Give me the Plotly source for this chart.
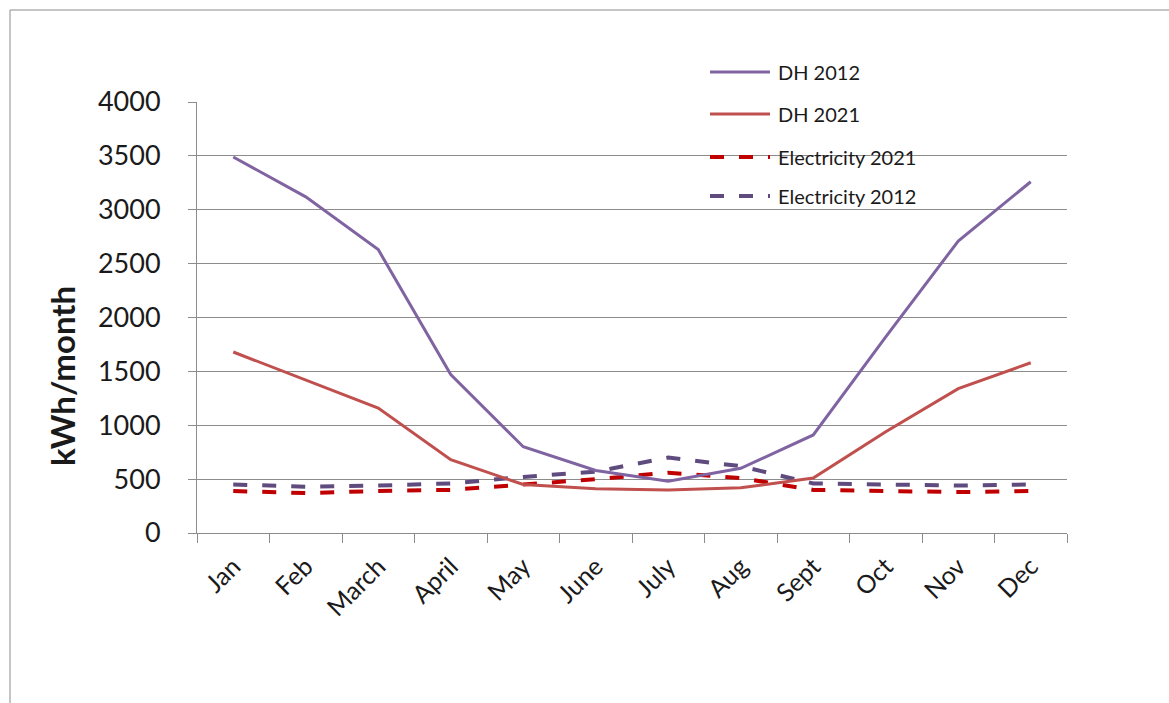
import plotly.graph_objects as go

# Monthly energy use, kWh per month
months = ["Jan", "Feb", "March", "April", "May", "June",
          "July", "Aug", "Sept", "Oct", "Nov", "Dec"]

dh_2012 = [3490, 3120, 2630, 1470, 800, 580, 480, 600, 910, 1820, 2710, 3260]
dh_2021 = [1680, 1420, 1160, 680, 450, 410, 400, 420, 510, 940, 1340, 1580]
el_2021 = [390, 370, 390, 400, 450, 500, 560, 510, 400, 390, 380, 390]
el_2012 = [450, 430, 440, 460, 520, 570, 700, 620, 460, 450, 440, 450]

series_names = ["DH 2012", "DH 2021", "Electricity 2021", "Electricity 2012"]
series_values = [dh_2012, dh_2021, el_2021, el_2012]
series_colors = ["#8064A2", "#C0504D", "#C00000", "#5F4B7E"]
series_dash = ["solid", "solid", "14px,15px", "14px,15px"]
series_width = [3, 3, 4, 4]

W, H = 1169, 703
L, R, T, B = 197, 102, 102, 170
pw, ph = W - L - R, H - T - B

def px_x(x):
    return (x - L) / pw

def px_y(y):
    return (H - B - y) / ph

fig = go.Figure()
# draw order: electricity underneath the district-heating lines
for i in [3, 2, 1, 0]:
    fig.add_trace(go.Scatter(
        x=months, y=series_values[i], name=series_names[i], mode="lines",
        line=dict(color=series_colors[i], width=series_width[i], dash=series_dash[i]),
        showlegend=False,
    ))

grid = "#8C8C8C"
font_family = "Lato, 'Open Sans', sans-serif"

fig.update_layout(
    width=W, height=H,
    margin=dict(l=L, r=R, t=T, b=B),
    paper_bgcolor="white", plot_bgcolor="white",
    font=dict(family=font_family, color="#1a1a1a"),
    xaxis=dict(
        type="category", tickson="boundaries", ticks="outside", ticklen=9,
        tickcolor=grid, tickwidth=1, showline=True, linecolor=grid, linewidth=1,
        showgrid=False, tickangle=-45, tickfont=dict(size=25),
        ticklabelstandoff=8, range=[-0.5, 11.5],
    ),
    yaxis=dict(
        range=[0, 4000], dtick=500, ticks="outside", ticklen=8, tickcolor=grid,
        showline=True, linecolor=grid, linewidth=1, showgrid=True,
        gridcolor=grid, gridwidth=1, zeroline=False, tickfont=dict(size=27),
        ticklabelstandoff=22,
    ),
)

# y-axis title
fig.add_annotation(
    text="<b>kWh/month</b>", textangle=-90, showarrow=False,
    xref="paper", yref="paper", x=px_x(62), y=px_y(376),
    xanchor="center", yanchor="middle", font=dict(size=33, color="#1a1a1a"),
)

# legend: sample line followed by label
legend_y = [72, 114, 157, 196]
for name, color, dash, width, y in zip(series_names, series_colors, series_dash,
                                      series_width, legend_y):
    fig.add_shape(
        type="line", xref="paper", yref="paper",
        x0=px_x(710), x1=px_x(770), y0=px_y(y), y1=px_y(y),
        line=dict(color=color, width=width, dash=dash),
    )
    fig.add_annotation(
        text=name, showarrow=False, xref="paper", yref="paper",
        x=px_x(776), y=px_y(y), xanchor="left", yanchor="middle",
        font=dict(size=20, color="#1a1a1a"),
    )

# outer frame (top and left edges)
fig.add_shape(type="line", xref="paper", yref="paper",
              x0=px_x(10), x1=px_x(1169), y0=px_y(10), y1=px_y(10),
              line=dict(color="#8C8C8C", width=1))
fig.add_shape(type="line", xref="paper", yref="paper",
              x0=px_x(10), x1=px_x(10), y0=px_y(10), y1=px_y(703),
              line=dict(color="#8C8C8C", width=1))

fig.write_html("out.html")
